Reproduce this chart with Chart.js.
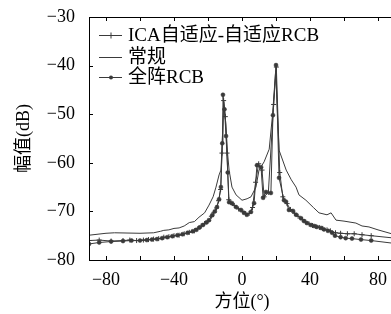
<!DOCTYPE html>
<html>
<head>
<meta charset="utf-8">
<script src="https://cdn.jsdelivr.net/npm/chart.js@4/dist/chart.umd.min.js"></script>
<style>
  html, body { margin: 0; padding: 0; background: #fff; overflow: hidden; }
  #wrap { width: 400px; height: 314px; }
</style>
</head>
<body>
<div id="wrap"><canvas id="c" width="400" height="314"></canvas></div>
<script>
// datos (azimut en grados, amplitud en dB)
const icaAz = [-90,-84,-77,-70,-66,-62,-58,-55,-52,-49,-46,-43,-40,-37,-34,-31,-28,-26,-24,-22,-20,-18,-16.5,-15,-13.8,-12.6,-11.8,-10.8,-9.8,-8.8,-7.8,-6.5,-4.5,-2,0.5,2.2,4.2,6.2,8,9.8,11.8,13,15.5,18.6,20.2,22.2,24,26.5,28.5,31,33,35.5,37.5,39.5,41.5,43.5,45.5,47.5,50,52,55,58,62,66,70.6,76,90];
const icaDb = [-76.0,-75.9,-76.1,-76.0,-75.9,-76.0,-75.9,-75.8,-75.7,-75.6,-75.3,-75.2,-75.0,-74.9,-74.6,-74.3,-74.0,-73.6,-73.0,-72.5,-72.0,-71.0,-70.2,-69.3,-67.8,-65.5,-58,-47.2,-50.5,-58,-67.6,-68.2,-68.8,-69.5,-70.1,-70.5,-70.4,-69.2,-64,-60.2,-61.5,-67.0,-66.1,-48,-40.3,-62,-67,-68.4,-69.6,-70.4,-71.0,-71.7,-72.2,-72.6,-72.9,-73.1,-73.3,-73.5,-73.8,-74.0,-74.4,-74.5,-74.6,-74.6,-74.8,-75.0,-75.5];

const convAz = [-90,-80,-75,-60,-52,-48,-46,-43,-40,-37,-34,-31,-28,-25.3,-22,-19.4,-17,-15.3,-13.5,-12.4,-11.8,-10.8,-9.5,-8.5,-7.6,-5.9,-3.5,0,3,5.3,8.2,10,13,16,18,19.8,21.8,26,29,31.8,33.5,37.6,42,45.3,50,52.4,55.3,60,67,70.6,74.7,80,90];
const convDb = [-74.9,-74.5,-74.4,-74.5,-74.4,-74.1,-73.9,-73.8,-73.5,-73.4,-73.0,-72.3,-72.1,-71.2,-70.3,-68.7,-67.0,-65.0,-62.5,-61.5,-57.4,-47.5,-52,-58,-61.5,-65,-66.6,-67.7,-67.4,-67.0,-65,-61.5,-59.8,-57.2,-50,-41,-57.4,-61.5,-63.5,-65,-66.6,-67.7,-69.2,-70.3,-70.7,-70.3,-71.8,-72.0,-72.4,-73.0,-73.2,-73.8,-74.8];

const rcbAz = [-90,-84,-77,-70,-65,-60,-56,-53,-50,-47,-44,-41,-38,-35,-32,-29,-27,-25,-23,-21,-19.4,-17.5,-16,-14.7,-13.5,-12.4,-11.6,-11.2,-10.3,-9.4,-8.4,-7.6,-5.9,-3.5,-0.6,1.2,2.9,5.3,7.1,8.8,11.2,12.4,14.1,17,18.2,20,21.8,24.7,25.9,27.6,30,31.8,34.7,36.5,38.2,40.6,42.4,44,46.5,48.2,50.6,53,54.7,58,61,64.7,70,76,90];
const rcbDb = [-76.7,-76.4,-76.2,-76.1,-76.0,-76.0,-75.9,-75.8,-75.7,-75.5,-75.3,-75.1,-74.9,-74.7,-74.4,-74.1,-73.8,-73.3,-72.8,-72.3,-71.8,-70.8,-70.0,-69.1,-67.5,-65,-56,-46.0,-49,-54.5,-62,-68.1,-68.3,-69.1,-69.7,-70.3,-70.7,-70.1,-68.3,-60.5,-60.9,-67.2,-66.0,-66.2,-50.2,-39.9,-63.1,-67.7,-68.0,-69.7,-69.9,-70.7,-71.4,-72.0,-72.4,-72.8,-73.0,-73.2,-73.4,-73.7,-74.0,-74.4,-75.0,-75.3,-75.5,-75.6,-75.8,-76.0,-76.6];

const labels = ['ICA自适应-自适应RCB', '常规', '全阵RCB'];
const xTicks = [-80,-60,-40,-20,0,20,40,60,80];

const serif = '"Liberation Serif", "DejaVu Serif", "Noto Sans CJK SC", serif';
const lineCol = '#3a3a3a';

const pts = (az, db) => az.map((a, i) => ({x: a, y: db[i]}));
const menos = v => String(v).replace('-', '\u2212');

// marco y marcas hacia dentro, como en la figura original
const marco = {
    id: 'marco',
    afterDraw(chart) {
        const ctx = chart.ctx;
        const a = chart.chartArea;
        const sx = chart.scales.x, sy = chart.scales.y;
        ctx.save();
        ctx.strokeStyle = '#000';
        ctx.lineWidth = 1;
        ctx.beginPath();
        ctx.moveTo(a.right + 0.5, a.top + 0.5);
        ctx.lineTo(a.left + 0.5, a.top + 0.5);
        ctx.lineTo(a.left + 0.5, a.bottom + 0.5);
        ctx.lineTo(a.right + 0.5, a.bottom + 0.5);
        xTicks.forEach(v => {
            const px = Math.round(sx.getPixelForValue(v)) + 0.5;
            ctx.moveTo(px, a.bottom); ctx.lineTo(px, a.bottom - 4);
            ctx.moveTo(px, a.top); ctx.lineTo(px, a.top + 4);
        });
        sy.ticks.forEach(t => {
            const py = Math.round(sy.getPixelForValue(t.value)) + 0.5;
            ctx.moveTo(a.left, py); ctx.lineTo(a.left + 4, py);
        });
        ctx.stroke();

        // leyenda
        const filas = [35, 57, 77];
        ctx.font = '19px ' + serif;
        ctx.textBaseline = 'middle';
        ctx.fillStyle = '#000';
        chart.data.datasets.forEach((ds, i) => {
            const y = filas[i] + 0.5;
            ctx.strokeStyle = lineCol;
            ctx.beginPath();
            ctx.moveTo(99, y); ctx.lineTo(122, y);
            ctx.stroke();
            if (ds.pointStyle === 'cross') {
                ctx.beginPath();
                ctx.moveTo(111, y - 3); ctx.lineTo(111, y + 3);
                ctx.moveTo(108, y); ctx.lineTo(114, y);
                ctx.stroke();
            } else if (ds.pointRadius > 0) {
                ctx.beginPath();
                ctx.arc(111, y, 2, 0, Math.PI * 2);
                ctx.fillStyle = lineCol;
                ctx.fill();
                ctx.fillStyle = '#000';
            }
            ctx.fillText(ds.label, 128, filas[i] + 1);
        });
        ctx.restore();
    }
};

new Chart(document.getElementById('c'), {
    type: 'line',
    data: {
        datasets: [
            {
                label: labels[0], data: pts(icaAz, icaDb),
                borderColor: lineCol, borderWidth: 1,
                pointStyle: 'cross', pointRadius: 2.5, pointBorderColor: lineCol, pointBorderWidth: 1
            },
            {
                label: labels[1], data: pts(convAz, convDb),
                borderColor: lineCol, borderWidth: 1, pointRadius: 0
            },
            {
                label: labels[2], data: pts(rcbAz, rcbDb),
                borderColor: lineCol, borderWidth: 1,
                pointStyle: 'circle', pointRadius: 2, pointBackgroundColor: lineCol, pointBorderColor: lineCol, pointBorderWidth: 0.5
            }
        ]
    },
    options: {
        responsive: false,
        animation: false,
        layout: { padding: { top: 17, right: 4, left: 0, bottom: 0 } },
        plugins: { legend: { display: false }, tooltip: { enabled: false } },
        scales: {
            x: {
                type: 'linear', min: -90, max: 90,
                grid: { display: false }, border: { display: false },
                afterBuildTicks: s => { s.ticks = xTicks.map(v => ({value: v})); },
                afterFit: s => { s.height = 54; },
                ticks: {
                    padding: 1, color: '#000', font: { family: serif, size: 18 },
                    maxRotation: 0, autoSkip: false,
                    callback: v => (v % 40 === 0 ? menos(v) : '')
                },
                title: { display: true, text: '方位(°)', color: '#000', font: { family: serif, size: 18 }, padding: { top: 0, bottom: 1 } }
            },
            y: {
                min: -80, max: -30,
                grid: { display: false }, border: { display: false },
                afterFit: s => { s.width = 89; },
                ticks: {
                    stepSize: 10, padding: 6, color: '#000', font: { family: serif, size: 18 },
                    callback: v => menos(v)
                },
                title: { display: true, text: '幅值(dB)', color: '#000', font: { family: serif, size: 18 }, padding: { top: 13, bottom: 0 } }
            }
        }
    },
    plugins: [marco]
});
</script>
</body>
</html>
